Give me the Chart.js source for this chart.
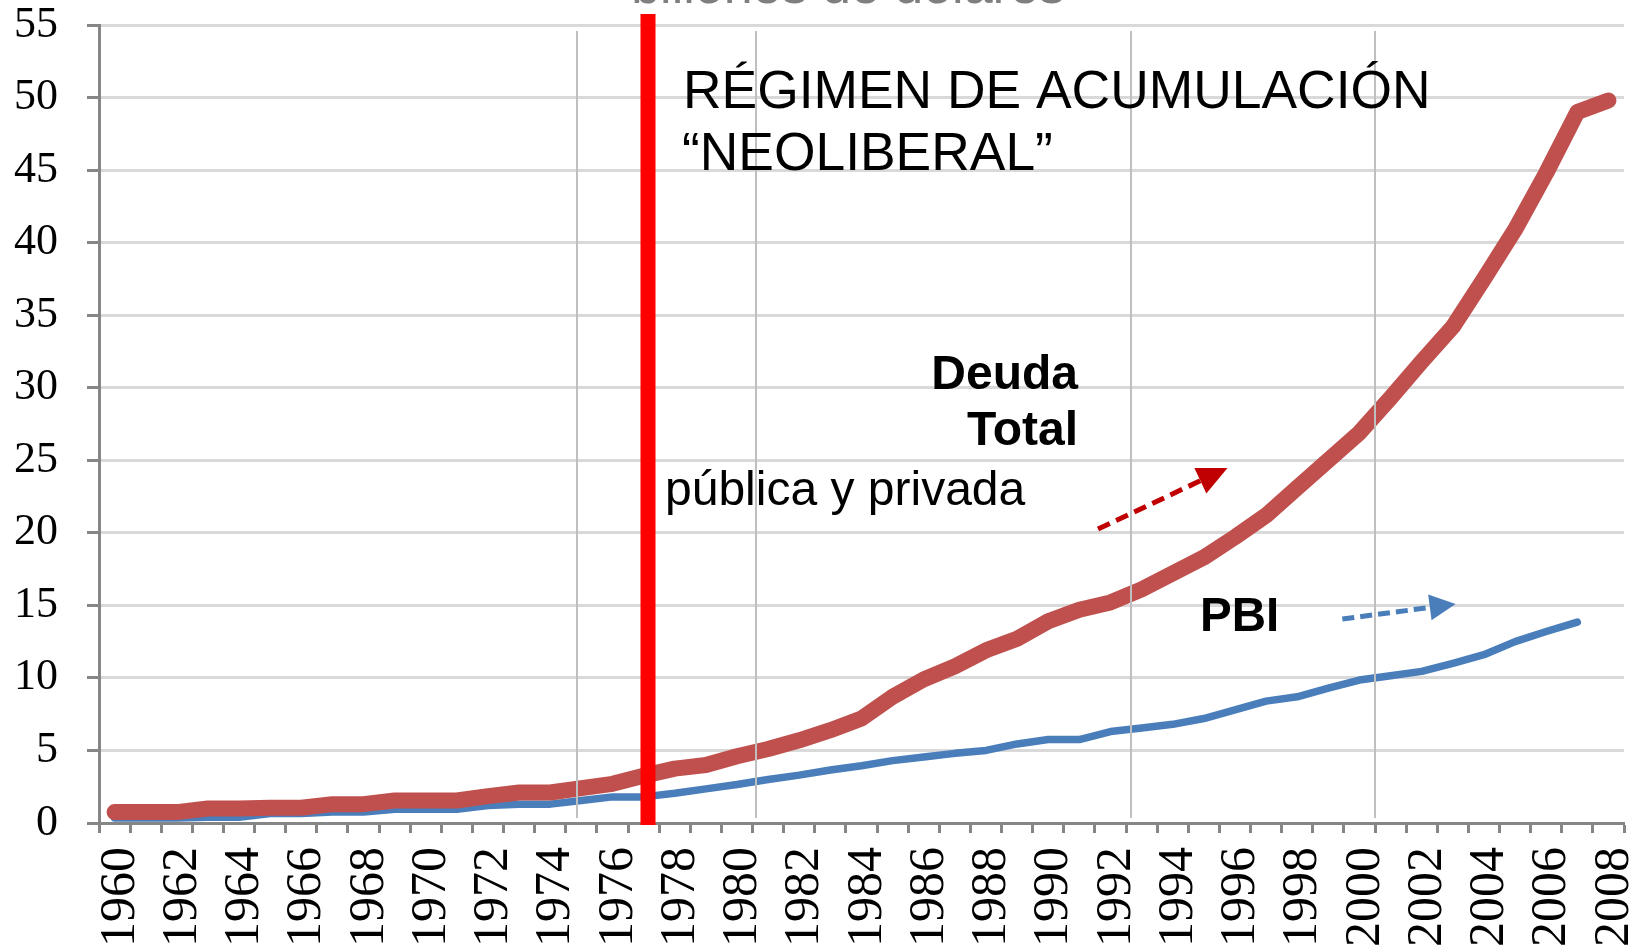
<!DOCTYPE html>
<html>
<head>
<meta charset="utf-8">
<script src="https://cdn.jsdelivr.net/npm/chart.js@4.4.0/dist/chart.umd.min.js"></script>
<style>
  html, body { margin:0; padding:0; background:#fff; overflow:hidden; }
  #chart { display:block; }
</style>
</head>
<body>
<canvas id="chart" width="1641" height="946"></canvas>
<script>
// --- datos (billones de dólares) ---
const years = [1960,1961,1962,1963,1964,1965,1966,1967,1968,1969,
               1970,1971,1972,1973,1974,1975,1976,1977,1978,1979,
               1980,1981,1982,1983,1984,1985,1986,1987,1988,1989,
               1990,1991,1992,1993,1994,1995,1996,1997,1998,1999,
               2000,2001,2002,2003,2004,2005,2006,2007,2008];

const deudaTotal = [0.75,0.75,0.75,1.0,1.0,1.05,1.05,1.3,1.3,1.55,
                    1.55,1.55,1.85,2.1,2.1,2.4,2.7,3.25,3.75,4.0,
                    4.6,5.1,5.7,6.4,7.2,8.7,9.9,10.8,11.9,12.7,
                    13.9,14.7,15.2,16.1,17.2,18.3,19.7,21.2,23.1,25.0,
                    26.9,29.3,31.8,34.2,37.5,40.9,44.8,49.0,49.8];

const pbi = [0.35,0.35,0.35,0.4,0.4,0.65,0.65,0.75,0.75,0.95,
             0.95,0.95,1.2,1.3,1.3,1.55,1.8,1.8,2.05,2.35,
             2.65,3.0,3.3,3.65,3.95,4.3,4.55,4.8,5.0,5.45,
             5.75,5.75,6.3,6.55,6.8,7.2,7.8,8.4,8.7,9.3,
             9.85,10.15,10.45,11.0,11.6,12.5,13.2,13.85,null];

const yTickValues = [0,5,10,15,20,25,30,35,40,45,50,55];

// year positions of the thin grey markers and the red regime line
const markerYears = [1974.85, 1980.6, 1992.65, 2000.5];
const regimeYear = 1977.14;

// arrows in data coordinates [year, value]
const debtArrow = { from:[1991.6, 20.26], to:[1995.76, 24.47] };
const pbiArrow  = { from:[1999.45, 14.06], to:[2003.09, 15.09] };

const SERIF = '"Liberation Serif", "Times New Roman", serif';
const SANS = '"Liberation Sans", Arial, sans-serif';

function arrow(ctx, x0, y0, x1, y1, color, width, dash, headLen, headHalf){
  const ang = Math.atan2(y1-y0, x1-x0);
  const bx = x1 - Math.cos(ang)*headLen, by = y1 - Math.sin(ang)*headLen;
  ctx.save();
  ctx.strokeStyle = color; ctx.fillStyle = color;
  ctx.lineWidth = width; ctx.setLineDash(dash);
  ctx.beginPath(); ctx.moveTo(x0,y0); ctx.lineTo(bx,by); ctx.stroke();
  ctx.setLineDash([]);
  ctx.beginPath();
  ctx.moveTo(x1,y1);
  ctx.lineTo(bx + Math.sin(ang)*headHalf, by - Math.cos(ang)*headHalf);
  ctx.lineTo(bx - Math.sin(ang)*headHalf, by + Math.cos(ang)*headHalf);
  ctx.closePath(); ctx.fill();
  ctx.restore();
}

const overlay = {
  id:'overlay',
  afterDraw(chart){
    const {ctx, chartArea, scales:{x, y}} = chart;
    const px = yr => x.getPixelForValue(yr - years[0]);

    // thin grey vertical markers
    ctx.save();
    ctx.strokeStyle = '#BFBFBF'; ctx.lineWidth = 2;
    markerYears.forEach(yr=>{
      const xx = Math.round(px(yr));
      ctx.beginPath(); ctx.moveTo(xx, chartArea.top + 6); ctx.lineTo(xx, chartArea.bottom - 5); ctx.stroke();
    });
    ctx.restore();

    // red regime line
    ctx.save();
    ctx.strokeStyle = '#FF0000'; ctx.lineWidth = 15;
    const rx = px(regimeYear);
    ctx.beginPath(); ctx.moveTo(rx, chartArea.top - 11); ctx.lineTo(rx, chartArea.bottom + 2); ctx.stroke();
    ctx.restore();

    // arrows
    arrow(ctx, px(debtArrow.from[0]), y.getPixelForValue(debtArrow.from[1]),
               px(debtArrow.to[0]), y.getPixelForValue(debtArrow.to[1]),
               '#C00000', 5, [13,7], 30, 14);
    arrow(ctx, px(pbiArrow.from[0]), y.getPixelForValue(pbiArrow.from[1]),
               px(pbiArrow.to[0]), y.getPixelForValue(pbiArrow.to[1]),
               '#4A7EBB', 5, [12,6], 26, 13);

    // texts
    ctx.save();
    ctx.fillStyle = '#000';
    ctx.textBaseline = 'alphabetic';
    ctx.textAlign = 'left';
    ctx.font = '53.4px ' + SANS;
    ctx.fillText('RÉGIMEN DE ACUMULACIÓN', 683, 108);
    ctx.fillText('\u201CNEOLIBERAL\u201D', 682, 170);
    ctx.font = '48px ' + SANS;
    ctx.fillText('pública y privada', 665, 505);
    ctx.font = 'bold 47.5px ' + SANS;
    ctx.fillText('PBI', 1200, 631);
    ctx.textAlign = 'right';
    ctx.font = 'bold 48px ' + SANS;
    ctx.fillText('Deuda', 1078, 389);
    ctx.fillText('Total', 1078, 445);
    // title, cut by the top edge
    ctx.fillStyle = '#7F7F7F';
    ctx.textAlign = 'center';
    ctx.font = '52px ' + SANS;
    ctx.fillText('billones de dólares', 848, 3);
    ctx.restore();
  }
};

new Chart(document.getElementById('chart').getContext('2d'), {
  type:'line',
  data:{
    labels: years.map(String),
    datasets:[
      { label:'Deuda Total', data: deudaTotal, borderColor:'#C0504D', borderWidth:16,
        pointRadius:0, tension:0, borderCapStyle:'round', borderJoinStyle:'round', order:0 },
      { label:'PBI', data: pbi, borderColor:'#4A7EBB', borderWidth:7.5,
        pointRadius:0, tension:0, borderCapStyle:'round', borderJoinStyle:'round', order:1 }
    ]
  },
  options:{
    responsive:false, animation:false, devicePixelRatio:1,
    layout:{ padding:{ top:25, right:17, left:0, bottom:0 } },
    plugins:{ legend:{ display:false }, tooltip:{ enabled:false } },
    scales:{
      x:{
        offset:true,
        grid:{ display:true, offset:true, drawOnChartArea:false, drawTicks:true,
               tickLength:10, tickWidth:3, tickColor:'#868686' },
        border:{ display:true, color:'#868686', width:3 },
        ticks:{
          autoSkip:false, minRotation:90, maxRotation:90, padding:14, labelOffset:6, color:'#000',
          font:{ family: SERIF, size:50 },
          callback:(v, i)=> i % 2 === 0 ? String(years[i]) : ''
        },
        afterFit:(s)=>{ s.height = 123; s.paddingLeft = 0; s.paddingRight = 0; }
      },
      y:{
        min:0, max:55,
        afterBuildTicks:(s)=>{ s.ticks = yTickValues.map(v=>({ value:v })); },
        grid:{ color:'#D9D9D9', lineWidth:3, drawTicks:true, tickLength:12, tickWidth:3, tickColor:'#868686' },
        border:{ display:true, color:'#868686', width:3 },
        ticks:{ padding:29, color:'#000', font:{ family: SERIF, size:44 } },
        afterFit:(s)=>{ s.width = 99; s.paddingTop = 0; s.paddingBottom = 0; }
      }
    }
  },
  plugins:[overlay]
});
</script>
</body>
</html>
